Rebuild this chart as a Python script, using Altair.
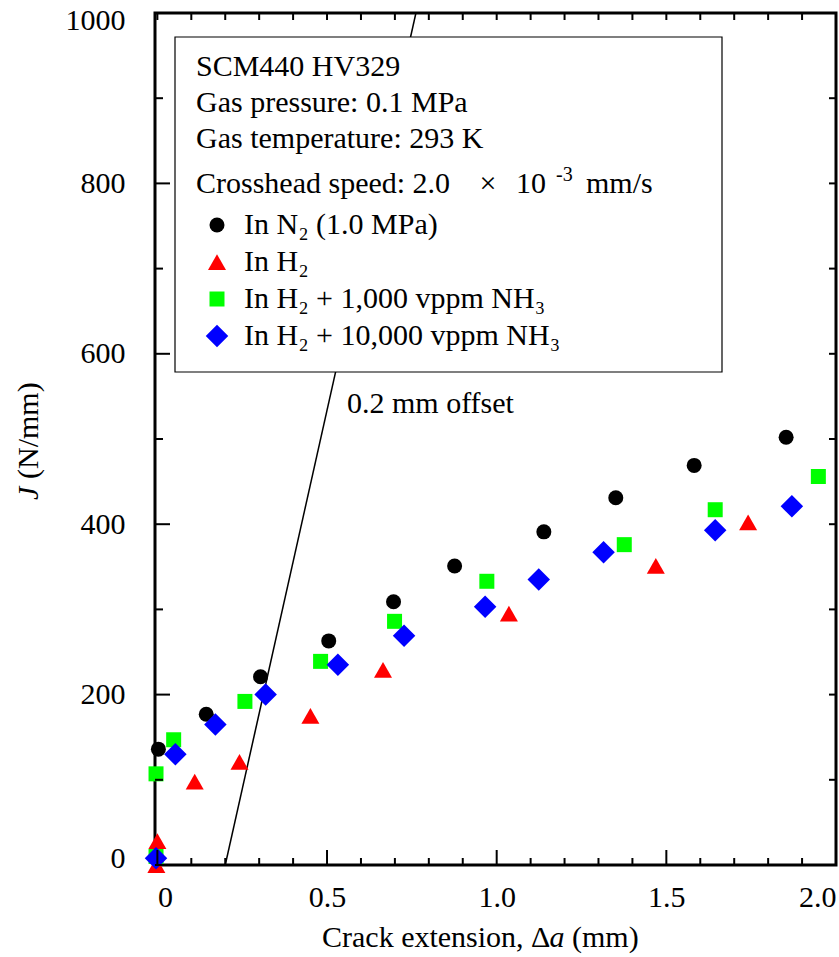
import altair as alt
import pandas as pd

FONT = "Liberation Serif"

# ---------------- data ----------------
series_names = ["In N₂ (1.0 MPa)", "In H₂", "In H₂ + 1,000 vppm NH₃", "In H₂ + 10,000 vppm NH₃"]
series_colors = ["#000000", "#ff0000", "#00ff00", "#0000ff"]
series_shapes = ["circle", "M0,-1.05L1.2,1.05L-1.2,1.05Z", "square", "M0,-1.5L1.5,0L0,1.5L-1.5,0Z"]

n2_da = [0.003, 0.144, 0.304, 0.505, 0.696, 0.876, 1.139, 1.351, 1.582, 1.853]
n2_J = [136, 177, 221, 263, 309, 351, 391, 431, 469, 502]

h2_da = [-0.003, 0.0, 0.110, 0.242, 0.451, 0.665, 1.036, 1.469, 1.741]
h2_J = [0, 28, 98, 121, 175, 229, 295, 351, 402]

nh1000_da = [-0.004, -0.004, 0.048, 0.258, 0.481, 0.699, 0.971, 1.376, 1.644, 1.948]
nh1000_J = [10, 107, 147, 192, 239, 286, 333, 376, 417, 456]

nh10000_da = [-0.004, 0.053, 0.171, 0.319, 0.532, 0.727, 0.966, 1.124, 1.315, 1.644, 1.870]
nh10000_J = [8, 130, 165, 200, 235, 269, 303, 335, 367, 393, 421]

offset_da = [0.2, 0.762]
offset_J = [0, 1000]

x_major = [0, 0.5, 1.0, 1.5, 2.0]
x_minor = [0.1, 0.2, 0.3, 0.4, 0.6, 0.7, 0.8, 0.9, 1.1, 1.2, 1.3, 1.4, 1.6, 1.7, 1.8, 1.9]
y_major = [0, 200, 400, 600, 800, 1000]
y_minor = [100, 300, 500, 700, 900]

# ---------------- tables ----------------
rows = []
for name, xs, ys in zip(series_names, [n2_da, h2_da, nh1000_da, nh10000_da],
                        [n2_J, h2_J, nh1000_J, nh10000_J]):
    for a, j in zip(xs, ys):
        rows.append({"da": a, "J": j, "series": name})
pts = pd.DataFrame(rows)
off = pd.DataFrame({"da": offset_da, "J": offset_J})
xmaj = pd.DataFrame({"da": x_major})
xmin = pd.DataFrame({"da": x_minor})
xall = pd.DataFrame({"da": x_major + x_minor})
ymaj = pd.DataFrame({"J": y_major})
ymin = pd.DataFrame({"J": y_minor})
yall = pd.DataFrame({"J": y_major + y_minor})

W, H = 681, 852
xs_ = alt.Scale(domain=[-0.007, 2.0], nice=False, zero=False)
ys_ = alt.Scale(domain=[0, 1000], nice=False)

x_axis = alt.Axis(values=x_major, labelExpr="datum.value == 0 ? '0' : format(datum.value, '.1f')",
                  labelFont=FONT, labelFontSize=30, labelColor="black", labelPadding=17,
                  ticks=False, tickSize=0, domain=False, grid=False, labelFlush=5, title=None)
y_axis = alt.Axis(values=y_major, format="d", labelFont=FONT, labelFontSize=30, labelColor="black",
                  labelPadding=30, ticks=False, tickSize=0, domain=False, grid=False,
                  labelFlush=True, labelFlushOffset=8, title=None)

X = alt.X("da:Q", scale=xs_, axis=x_axis)
Y = alt.Y("J:Q", scale=ys_, axis=y_axis)

line = alt.Chart(off).mark_line(color="black", strokeWidth=1.5).encode(x=X, y=Y)

box = alt.Chart(alt.Data(values=[{}])).mark_rect(fill="white", stroke="black", strokeWidth=1.2).encode(
    x=alt.value(20), x2=alt.value(567), y=alt.value(24), y2=alt.value(359))

points = alt.Chart(pts).mark_point(filled=True, opacity=1, strokeWidth=0, size=225).encode(
    x=X, y=Y,
    color=alt.Color("series:N", scale=alt.Scale(domain=series_names, range=series_colors),
                    legend=alt.Legend(orient="none", legendX=47, legendY=197, title=None,
                                      labelFont=FONT, labelFontSize=30, labelColor="black",
                                      labelOffset=12, rowPadding=7, padding=0, labelLimit=600,
                                      symbolSize=225, symbolStrokeWidth=0, symbolOpacity=1)),
    shape=alt.Shape("series:N", scale=alt.Scale(domain=series_names, range=series_shapes)),
    order=alt.Order("idx:Q"),
).transform_window(idx="row_number()")

def tick(df, field, side, length):
    if field == "da":
        if side == "bottom":
            enc = dict(x=X, y=alt.value(H), y2=alt.value(H - length))
        else:
            enc = dict(x=X, y=alt.value(0), y2=alt.value(length))
    else:
        if side == "left":
            enc = dict(y=Y, x=alt.value(0), x2=alt.value(length))
        else:
            enc = dict(y=Y, x=alt.value(W), x2=alt.value(W - length))
    return alt.Chart(df).mark_rule(color="black", strokeWidth=2).encode(**enc)

ticks = [
    tick(xmaj, "da", "bottom", 15), tick(xmin, "da", "bottom", 7), tick(xall, "da", "top", 7),
    tick(ymaj, "J", "left", 15), tick(ymin, "J", "left", 8), tick(yall, "J", "right", 7),
]

def txt(s, x, y, size=30, italic=False, align="left", angle=0):
    kw = dict(font=FONT, fontSize=size, color="black", align=align, baseline="alphabetic")
    if italic:
        kw["fontStyle"] = "italic"
    if angle:
        kw["angle"] = angle
    return alt.Chart(alt.Data(values=[{"t": s}])).mark_text(**kw).encode(
        x=alt.value(x), y=alt.value(y), text="t:N")

texts = [
    txt("SCM440 HV329", 41, 63),
    txt("Gas pressure: 0.1 MPa", 41, 99),
    txt("Gas temperature: 293 K", 41, 135),
    txt("Crosshead speed: 2.0", 41, 180),
    txt("×", 333, 180, align="center"),
    txt("10", 361, 180),
    txt("-3", 401, 168, size=20),
    txt("mm/s", 431, 180),
    txt("0.2 mm offset", 192, 400),
    txt("Crack extension, Δ", 167, 934),
    txt("a", 394.5, 934, italic=True),
    txt("(mm)", 417, 934),
    txt("J", -117, 487, italic=True, angle=270),
    txt("(N/mm)", -117, 466, angle=270),
]

chart = alt.layer(line, box, points, *ticks, *texts).properties(
    width=W, height=H,
    padding={"left": 155, "top": 13, "right": 3, "bottom": 92},
    autosize=alt.AutoSizeParams(type="none"),
).configure_view(stroke="black", strokeWidth=3)

chart.save("out.html", embed_options={"renderer": "svg", "actions": False})
